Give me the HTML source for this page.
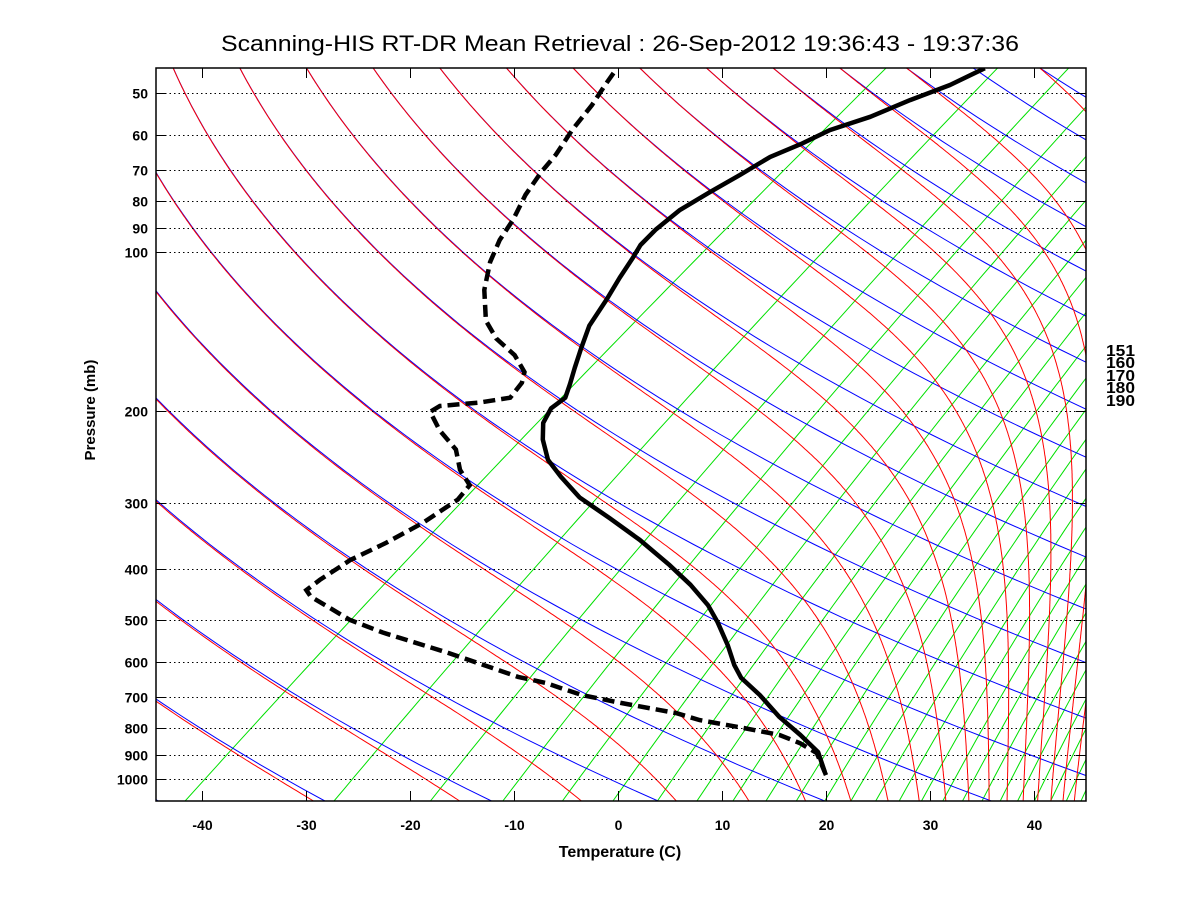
<!DOCTYPE html>
<html><head><meta charset="utf-8"><style>
html,body{margin:0;padding:0;background:#fff;}
svg{display:block;font-family:"Liberation Sans",Arial,sans-serif;}
</style></head><body>
<svg id="chart" width="1200" height="900" viewBox="0 0 1200 900" xmlns="http://www.w3.org/2000/svg">
<rect width="1200" height="900" fill="#fff"/>
<text x="620" y="51" text-anchor="middle" font-size="22" textLength="798" lengthAdjust="spacingAndGlyphs">Scanning-HIS RT-DR Mean Retrieval : 26-Sep-2012 19:36:43 - 19:37:36</text>
<defs><clipPath id="pc"><rect x="156" y="68" width="930" height="733"/></clipPath></defs>
<g id="grid" clip-path="url(#pc)"></g>
<g id="plines"></g>
<g id="snd" clip-path="url(#pc)"></g>
<rect x="156" y="68" width="930" height="733" fill="none" stroke="#000" stroke-width="1.5"/>
<g id="axes"></g>
<text x="620" y="857" text-anchor="middle" font-size="16" font-weight="bold">Temperature (C)</text>
<text transform="translate(95,410) rotate(-90)" text-anchor="middle" font-size="15" font-weight="bold">Pressure (mb)</text>
<g font-size="16" font-weight="bold">
<text x="1106" y="356" textLength="29" lengthAdjust="spacingAndGlyphs">151</text>
<text x="1106" y="368" textLength="29" lengthAdjust="spacingAndGlyphs">160</text>
<text x="1106" y="381" textLength="29" lengthAdjust="spacingAndGlyphs">170</text>
<text x="1106" y="393" textLength="29" lengthAdjust="spacingAndGlyphs">180</text>
<text x="1106" y="406" textLength="29" lengthAdjust="spacingAndGlyphs">190</text>
</g>
</svg>
<script>
// ---- data ----
const pressureTicks = [50,60,70,80,90,100,200,300,400,500,600,700,800,900,1000];
const tempTicks = [-40,-30,-20,-10,0,10,20,30,40];
const dryThetaK = [175.9,191.5,207.1,222.7,238.3,253.9,269.5,285.1,300.7,316.3,331.9,347.5,363.1,378.7,394.3,409.9,425.5,441.1,456.7,472.3,487.9,503.5,519.1,534.7,550.3];
const moistTopThetaK = [222.7,238.3,253.9,269.5,285.1,300.7,316.3,331.9,347.5,363.1,378.7,394.3,409.9,425.5,441.1,456.7,472.3,487.9,503.5,534.7];
const mixRatioGkg = [0.09,0.37,0.84,1.49,2.33,3.35,4.56,5.95,7.53,9.3,11.25,13.4,15.7,18.2,20.9,23.8,26.9,30.1,33.6,37.2,41.0,45.0,49.2,53.6,58.1,62.9];
const tempP = [970,889,825,763,693,643,608,557,504,468,428,393,352,320,292,267,248,227,211,198,189,178,166,153,138,123,112,102.6,97,90.8,83.2,76.9,71.4,66.0,62.4,58.7,55.4,51.5,48.2,44.8];
const tempC = [16.2,13.0,9.1,4.8,0.1,-3.9,-6.2,-9.4,-13.3,-16.4,-20.7,-25.2,-31.3,-37.0,-42.6,-47.0,-50.4,-53.5,-55.6,-56.7,-56.7,-58.0,-59.6,-61.4,-63.6,-65.3,-66.8,-68.1,-69.0,-69.5,-69.7,-69.1,-68.4,-67.8,-66.5,-65.5,-63.3,-61.6,-59.7,-58.5];
const dewP = [983,893,855,825,800,773,750,717,693,672,657,640,577,528,499,474,451,438,419,384,357,327,295,277,259,237,218,201,196,193,189,177,169,157,146,135,118,104.5,94.9,86.9,77.9,70.5,65.4,58.7,52.6,48.2,44.8];
const dewC = [16.7,13.0,10.1,7.1,2.7,-2.5,-5.6,-12.3,-17.0,-20.0,-22.1,-25.5,-35.2,-44.1,-49.0,-52.4,-55.7,-57.0,-57.0,-56.6,-55.4,-54.4,-54.0,-54.7,-57.6,-60.6,-64.6,-67.9,-67.7,-64.3,-62.0,-62.8,-63.9,-67.0,-70.9,-74.2,-78.3,-81.3,-83.2,-84.5,-86.5,-87.9,-88.7,-90.3,-91.6,-92.9,-93.9];

// ---- axis functions ----
const NS='http://www.w3.org/2000/svg';
const X0=618, PXC=10.39, SKEW=1.33, YB=801, Y1000=779, PXD=527, LV=2.5e6;
const PBOT=1000*Math.pow(10,(YB-Y1000)/PXD), PTOP=1000*Math.pow(10,(68-Y1000)/PXD);
function yP(p){return Y1000-PXD*Math.log10(1000/p);}
function xTP(tc,p){return X0+PXC*tc+SKEW*(YB-yP(p));}
function es(tc){return 6.112*Math.exp(17.67*tc/(tc+243.5));}
function mk(tag,attrs,parent){const e=document.createElementNS(NS,tag);for(const k in attrs)e.setAttribute(k,attrs[k]);parent.appendChild(e);return e;}
function pathFrom(pts){return pts.map((q,i)=>(i?'L':'M')+q[0].toFixed(1)+' '+q[1].toFixed(1)).join('');}
function pList(n){const a=[];for(let i=0;i<=n;i++){a.push(PBOT*Math.exp(Math.log(PTOP/PBOT)*i/n));}return a;}

const grid=document.getElementById('grid');
// mixing ratio lines
mixRatioGkg.forEach(w=>{
  const pts=pList(60).map(p=>{const e=w*p/(622+w);const a=Math.log(e/6.112);const tc=243.5*a/(17.67-a);return [xTP(tc,p),yP(p)];});
  const el=mk('path',{d:pathFrom(pts),fill:'none',stroke:'#00e000','stroke-width':1},grid);
  
  
});
// dry adiabats
dryThetaK.forEach(th=>{
  const pts=pList(60).map(p=>[xTP(th*Math.pow(p/1000,0.286)-273.15,p),yP(p)]);
  const el=mk('path',{d:pathFrom(pts),fill:'none',stroke:'#0000ff','stroke-width':1},grid);
  
  
});
// moist adiabats: integrate downward from the top of the chart
moistTopThetaK.forEach(th=>{
  const N=500, ps=pList(N).reverse(); let T=th*Math.pow(PTOP/1000,0.286); const pts=[];
  for(let i=0;i<=N;i++){
    const p=ps[i]; pts.push([xTP(T-273.15,p),yP(p)]);
    if(T>360) break;
    if(i<N){
      const dlnp=Math.log(ps[i+1]/p);
      const f=(TT)=>{const e=es(TT-273.15);let rs=0.622*e/Math.max(p-e,1);rs=Math.min(Math.max(rs,0),0.5);return (287*TT+LV*rs)/(1005+LV*LV*rs*0.622/(287*TT*TT));};
      const k1=f(T), k2=f(T+0.5*k1*dlnp);
      T=T+k2*dlnp;
    }
  }
  const el=mk('path',{d:pathFrom(pts),fill:'none',stroke:'#ff0000','stroke-width':1},grid);
  
  
});

// pressure gridlines + labels + ticks
const pl=document.getElementById('plines'), ax=document.getElementById('axes');
pressureTicks.forEach(p=>{
  const y=Math.round(yP(p))+0.5;
  const ln=mk('line',{x1:156,x2:1086,y1:y,y2:y,stroke:'#000','stroke-width':1,'stroke-dasharray':'1.5,3'},pl);
  
  
  mk('line',{x1:156,x2:166,y1:y,y2:y,stroke:'#000','stroke-width':1},ax);
  mk('line',{x1:1076,x2:1086,y1:y,y2:y,stroke:'#000','stroke-width':1},ax);
  const t=mk('text',{x:148,y:y+5,'text-anchor':'end','font-size':14,'font-weight':'bold'},ax);
  t.textContent=p;
  
  
});
tempTicks.forEach(tc=>{
  const x=Math.round(X0+PXC*tc)+0.5;
  mk('line',{x1:x,x2:x,y1:791,y2:801,stroke:'#000','stroke-width':1},ax);
  mk('line',{x1:x,x2:x,y1:68,y2:78,stroke:'#000','stroke-width':1},ax);
  const t=mk('text',{x:x,y:830,'text-anchor':'middle','font-size':14,'font-weight':'bold'},ax);
  t.textContent=tc;
  
  
});

// sounding
const snd=document.getElementById('snd');
const tpath=mk('path',{d:pathFrom(tempP.map((p,i)=>[xTP(tempC[i],p),yP(p)])),fill:'none',stroke:'#000','stroke-width':4.5,'stroke-linejoin':'round'},snd);


const dpath=mk('path',{d:pathFrom(dewP.map((p,i)=>[xTP(dewC[i],p),yP(p)])),fill:'none',stroke:'#000','stroke-width':4.5,'stroke-dasharray':'12,6'},snd);


</script>
</body></html>
